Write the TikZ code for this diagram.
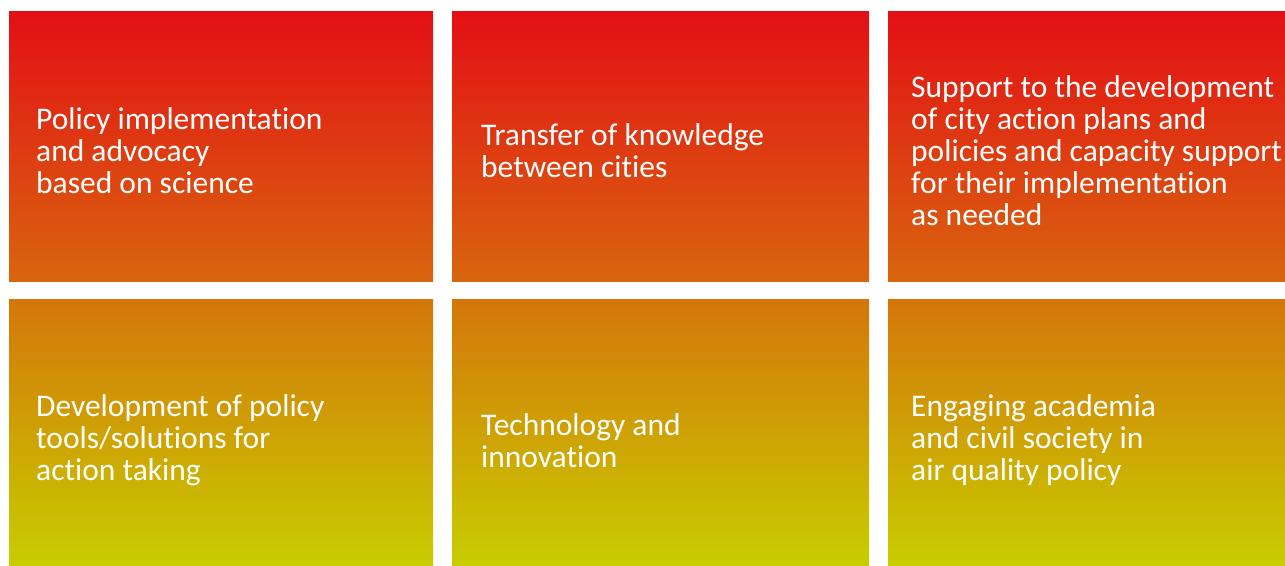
\documentclass[tikz,border=0pt]{standalone}
\usepackage{fontspec}
\setmainfont[Ligatures=NoCommon]{Carlito}
\definecolor{redtop}{RGB}{227,15,21}
\definecolor{orangemid}{RGB}{217,101,14}
\definecolor{orangelow}{RGB}{212,118,10}
\definecolor{limebottom}{RGB}{200,205,0}
\begin{document}
\begin{tikzpicture}[x=1pt,y=-1pt,
  tile/.style={draw=none, inner sep=0pt, outer sep=0pt, anchor=north west},
  upper/.style={tile, top color=redtop, bottom color=orangemid, minimum height=270pt},
  lower/.style={tile, top color=orangelow, bottom color=limebottom, minimum height=266pt},
  caption/.style={text=white, align=left, inner sep=0pt, anchor=west,
    font=\fontsize{31.5}{32}\selectfont}]
  \useasboundingbox (0,0) rectangle (1285,565);
  % upper row of tiles
  \node[upper, minimum width=424pt] (b1) at (9,11) {};
  \node[upper, minimum width=417pt] (b2) at (452,11) {};
  \node[upper, minimum width=397pt] (b3) at (888,11) {};
  % lower row of tiles
  \node[lower, minimum width=424pt] (b4) at (9,299) {};
  \node[lower, minimum width=417pt] (b5) at (452,299) {};
  \node[lower, minimum width=397pt] (b6) at (888,299) {};
  % captions
  \node[caption] (t1) at ([xshift=27pt, yshift=-4.5pt]b1.west) {Policy implementation\\and advocacy\\based on science};
  \node[caption] (t2) at ([xshift=29pt, yshift=-4.5pt]b2.west) {Transfer of knowledge\\between cities};
  \node[caption] (t3) at ([xshift=23pt, yshift=-4.5pt]b3.west) {Support to the development\\of city action plans and\\policies and capacity support\\for their implementation\\as needed};
  \node[caption] (t4) at ([xshift=27pt, yshift=-8.5pt]b4.west) {Development of policy\\tools/solutions for\\action taking};
  \node[caption] (t5) at ([xshift=29pt, yshift=-8.5pt]b5.west) {Technology and\\innovation};
  \node[caption] (t6) at ([xshift=23pt, yshift=-8.5pt]b6.west) {Engaging academia\\and civil society in\\air quality policy};
\end{tikzpicture}
\end{document}
